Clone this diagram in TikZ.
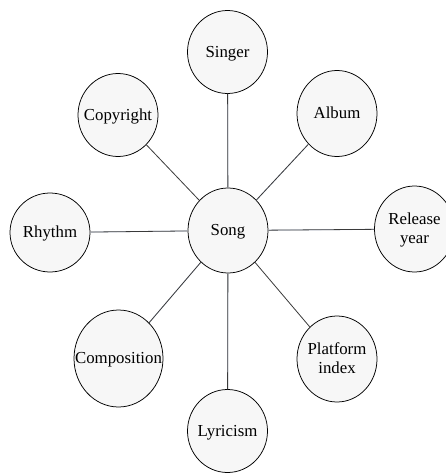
\documentclass[tikz,border=0pt]{standalone}
\usepackage{fontspec}
\setmainfont{Liberation Serif}
\usetikzlibrary{shapes.geometric}
\definecolor{nodefill}{HTML}{F7F7F7}
\definecolor{edgecol}{HTML}{3A3A3A}
\definecolor{shadowcol}{HTML}{DCE3F2}
\newcommand{\ctext}[1]{\smash{\makebox[0pt]{\raisebox{-0.33em}{$\vcenter{\hbox{\begin{tabular}{@{}c@{}}#1\end{tabular}}}$}}}}
\tikzset{
  attr/.style={ellipse, draw=black, line width=0.75pt, fill=nodefill, inner sep=0pt,
    minimum width=80pt, minimum height=83pt,
    font=\fontsize{16.8pt}{19pt}\selectfont},
  link/.style={draw=edgecol, line width=0.8pt},
  glow/.style={draw=shadowcol, line width=1pt}
}
\begin{document}
\begin{tikzpicture}[x=1pt,y=-1pt]
\useasboundingbox (0,0) rectangle (446,473);
\node[attr, minimum height=85pt] (song) at (228,230.5) {\ctext{Song}};
\node[attr] (singer) at (227.5,52) {\ctext{Singer}};
\node[attr] (copy) at (118,115) {\ctext{Copyright}};
\node[attr, minimum height=86pt] (album) at (337,113.5) {\ctext{Album}};
\node[attr, minimum height=79pt] (rhythm) at (50,232.5) {\ctext{Rhythm}};
\node[attr, minimum height=86pt] (release) at (414.5,229) {\ctext{Release\\year}};
\node[attr, minimum width=89pt, minimum height=97pt] (comp) at (118.5,358.5) {\ctext{Composition}};
\node[attr] (lyric) at (227.5,431) {\ctext{Lyricism}};
\node[attr, minimum height=86pt] (plat) at (337,359) {\ctext{Platform\\index}};
% faint light-blue doubles beside some connectors
\draw[glow, xshift=1.5pt] (song) -- (singer);
\draw[glow, xshift=1.5pt, yshift=-1pt] (song) -- (album);
\draw[glow, yshift=-1.5pt] (song) -- (rhythm);
\draw[glow, yshift=-1.5pt] (song) -- (release);
\draw[glow, xshift=1.5pt, yshift=-1pt] (song) -- (comp);
\draw[glow, xshift=1.5pt] (song) -- (lyric);
% connectors
\draw[link] (song) -- (singer);
\draw[link] (song) -- (copy);
\draw[link] (song) -- (album);
\draw[link] (song) -- (rhythm);
\draw[link] (song) -- (release);
\draw[link] (song) -- (comp);
\draw[link] (song) -- (lyric);
\draw[link] (song) -- (plat);
\end{tikzpicture}
\end{document}
